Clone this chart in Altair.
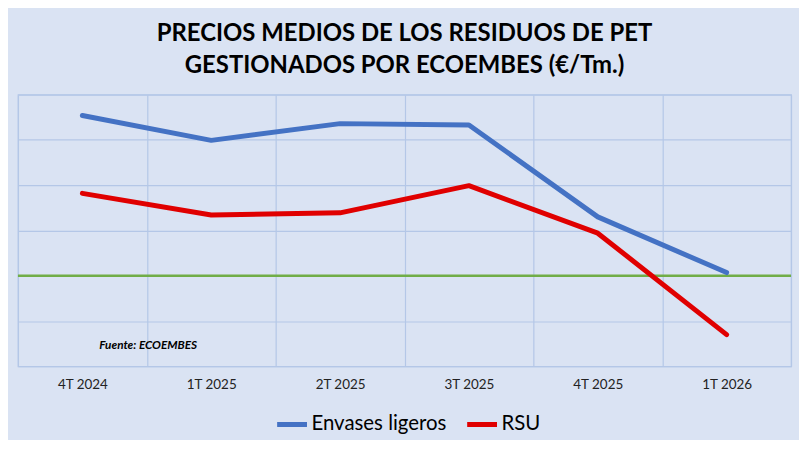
import altair as alt
import pandas as pd

cats = ["4T 2024", "1T 2025", "2T 2025", "3T 2025", "4T 2025", "1T 2026"]
envases = [554, 499, 536, 533, 330, 207]
rsu = [382, 334, 339, 399, 294, 70]
series = ["Envases ligeros", "RSU"]
ref_level = [200]
y_ticks = [0, 100, 200, 300, 400, 500, 600]
note = ["Fuente: ECOEMBES"]
note_pos = [48]

rows = []
for c, a, b in zip(cats, envases, rsu):
    rows.append({"cat": c, "serie": series[0], "v": a})
    rows.append({"cat": c, "serie": series[1], "v": b})
df = pd.DataFrame(rows)

FONT = "Lato"
BG = "#dae3f3"
GRID = "#b4c7e7"

xscale = alt.Scale(type="band", domain=cats, paddingInner=0, paddingOuter=0)
yscale = alt.Scale(domain=[0, 600], nice=False)

x_enc = alt.X(
    "cat:N", scale=xscale, bandPosition=0.5, sort=cats, title=None,
    axis=alt.Axis(grid=True, tickBand="extent", ticks=False, domain=False,
                  labelAngle=0, labelFontSize=13.5, labelFont=FONT,
                  labelColor="#222222", labelPadding=11,
                  gridColor=GRID, gridWidth=1.2),
)
y_enc = alt.Y(
    "v:Q", scale=yscale, title=None,
    axis=alt.Axis(values=y_ticks, grid=True, labels=False, ticks=False,
                  domain=False, gridColor=GRID, gridWidth=1.2),
)

lines = alt.Chart(df).mark_line(strokeWidth=5, strokeCap="round", strokeJoin="round").encode(
    x=x_enc,
    y=y_enc,
    color=alt.Color(
        "serie:N",
        scale=alt.Scale(domain=series, range=["#4472c4", "#e00000"]),
        legend=alt.Legend(title=None, orient="none", direction="horizontal",
                          legendX=258, legendY=314,
                          symbolType="stroke", symbolStrokeWidth=5, symbolSize=900,
                          labelFontSize=20.5, labelFont=FONT, labelColor="#000000",
                          labelOffset=2, columnPadding=10),
    ),
)

ref = alt.Chart(pd.DataFrame({"ref": ref_level})).mark_rule(
    color="#70ad47", strokeWidth=2.5
).encode(y=alt.Y("ref:Q", scale=yscale))

txt = alt.Chart(pd.DataFrame({"cat": [cats[0]], "v": note_pos, "t": note})).mark_text(
    align="left", baseline="middle", dx=17, fontSize=11.8, font=FONT,
    fontStyle="italic", fontWeight="bold", color="#000000"
).encode(
    x=alt.X("cat:N", scale=xscale, bandPosition=0.5, sort=cats),
    y=alt.Y("v:Q", scale=yscale),
    text="t:N",
)

chart = alt.layer(ref, lines, txt).properties(
    width=777, height=273,
    padding={"left": 8, "top": 13, "right": 6, "bottom": 4},
    background=BG,
    title=alt.TitleParams(
        text=["PRECIOS MEDIOS DE LOS RESIDUOS DE PET", "GESTIONADOS POR ECOEMBES (€/Tm.)"],
        font=FONT, fontSize=24, fontWeight="bold", color="#000000",
        lineHeight=32, offset=17, anchor="middle",
    ),
).configure_view(stroke=GRID, strokeWidth=1.2, fill=BG)

chart.save("out.html", embed_options={"renderer": "svg", "actions": False})
